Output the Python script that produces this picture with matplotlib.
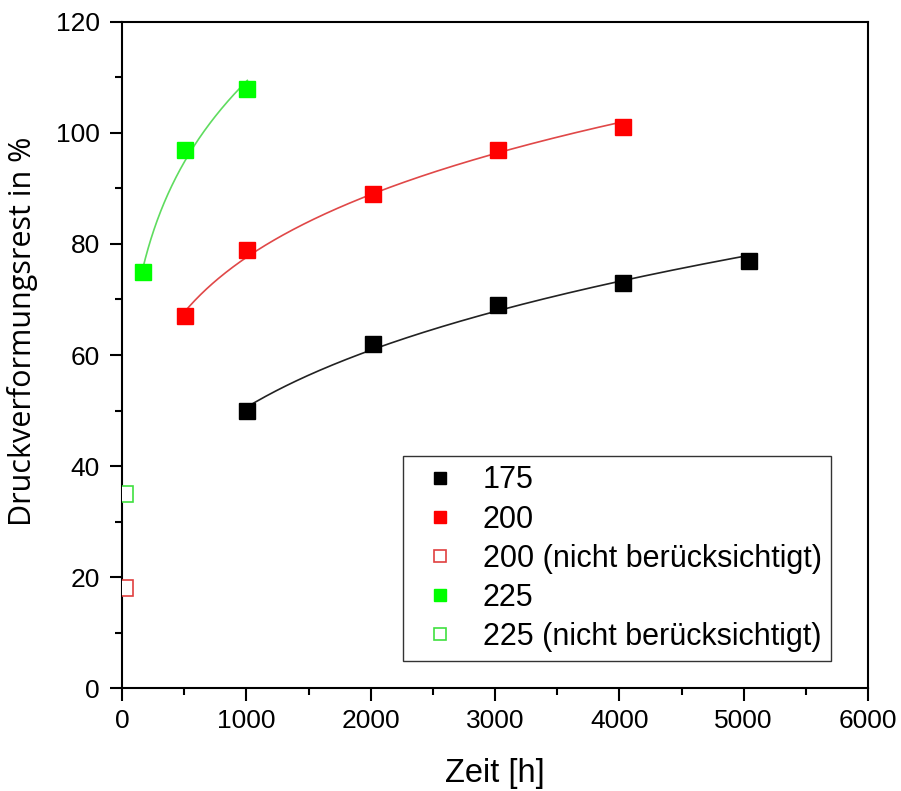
import numpy as np
import matplotlib.pyplot as plt
from matplotlib.ticker import MultipleLocator

plt.rcParams['font.family'] = ['Liberation Sans', 'DejaVu Sans']

# Zeit in h, Druckverformungsrest in %
t175 = [1008, 2016, 3024, 4032, 5040]
d175 = [50, 62, 69, 73, 77]
t200 = [504, 1008, 2016, 3024, 4032]
d200 = [67, 79, 89, 97, 101]
t225 = [168, 504, 1008]
d225 = [75, 97, 108]
t200_nb = [24]
d200_nb = [18]
t225_nb = [24]
d225_nb = [35]


def power_fit(t, d, n=300):
    b, a = np.polyfit(np.log(t), np.log(d), 1)
    x = np.linspace(min(t), max(t), n)
    return x, np.exp(a) * x ** b


fig = plt.figure(figsize=(9.01, 7.91), dpi=100)
ax = fig.add_axes([0.1354, 0.1302, 0.9634 - 0.1354, 0.9722 - 0.1302])

for t, d, lc in [(t175, d175, '#222222'), (t200, d200, '#e04848'), (t225, d225, '#5fdc5f')]:
    x, y = power_fit(t, d)
    ax.plot(x, y, color=lc, lw=1.2, zorder=2)

ms = 11
ax.plot(t175, d175, 's', color='black', ms=ms, ls='none', label='175', zorder=3)
ax.plot(t200, d200, 's', color='#ff0000', ms=ms, ls='none', label='200', zorder=3)
ax.plot(t200_nb, d200_nb, 's', mfc='white', mec='#e04040', mew=1.2, ms=ms, ls='none',
        label='200 (nicht berücksichtigt)', zorder=3)
ax.plot(t225, d225, 's', color='#00ff00', ms=ms, ls='none', label='225', zorder=3)
ax.plot(t225_nb, d225_nb, 's', mfc='white', mec='#40e040', mew=1.2, ms=ms, ls='none',
        label='225 (nicht berücksichtigt)', zorder=3)

ax.set_xlim(0, 6000)
ax.set_ylim(0, 120)
ax.xaxis.set_major_locator(MultipleLocator(1000))
ax.xaxis.set_minor_locator(MultipleLocator(500))
ax.yaxis.set_major_locator(MultipleLocator(20))
ax.yaxis.set_minor_locator(MultipleLocator(10))
ax.tick_params(which='major', direction='out', length=9, width=1.5, labelsize=19)
ax.tick_params(axis='y', which='major', pad=7)
ax.tick_params(axis='x', which='major', pad=6)
ax.tick_params(which='minor', direction='out', length=5, width=1.5)
for s in ax.spines.values():
    s.set_linewidth(1.5)

ax.set_xlabel('Zeit [h]', fontsize=23.5, labelpad=18)
ax.set_ylabel('Druckverformungsrest in %', fontsize=22, family=['Open Sans', 'DejaVu Sans'])
ax.yaxis.set_label_coords(-0.113, 0.536)

leg = ax.legend(loc='upper left', bbox_to_anchor=(0.377, 0.348), fontsize=22,
                frameon=True, fancybox=False, edgecolor='#333333', framealpha=1,
                handletextpad=0.5, labelspacing=0.3, borderpad=0.3, handlelength=1.8,
                borderaxespad=0, markerscale=0.85)
leg.get_frame().set_linewidth(1.0)

fig.savefig('out.png', dpi=100)
